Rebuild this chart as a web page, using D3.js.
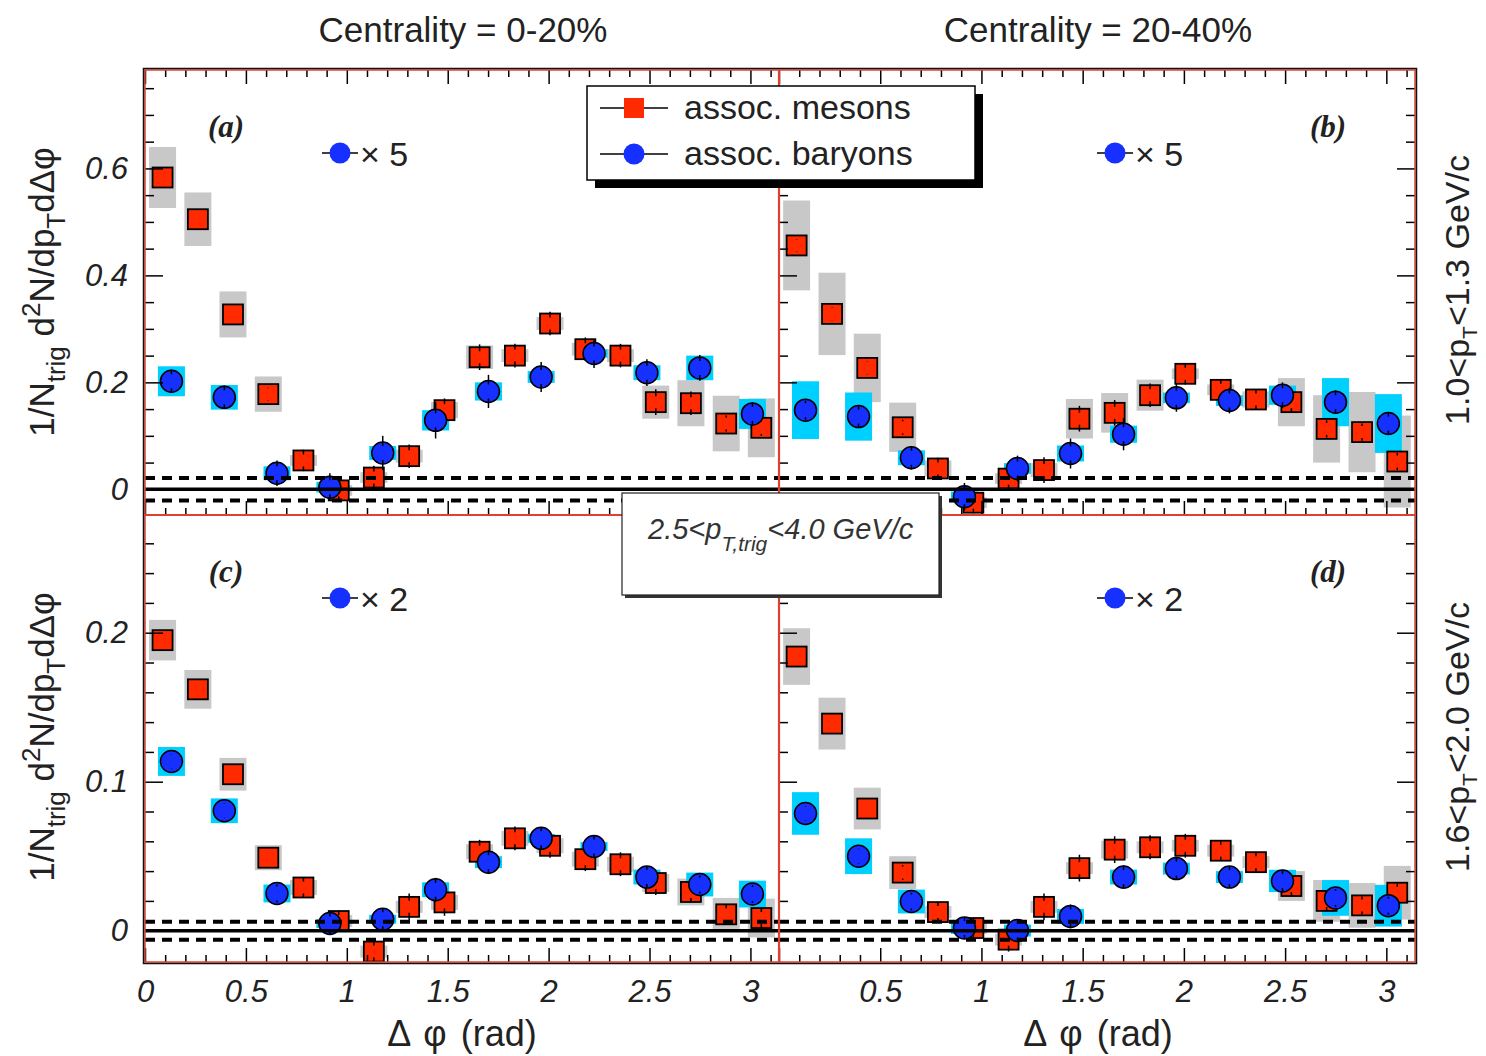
<!DOCTYPE html>
<html>
<head>
<meta charset="utf-8">
<script src="https://cdn.jsdelivr.net/npm/d3@7/dist/d3.min.js"></script>
<style>
  body { margin: 0; background: #fff; }
  text { font-family: "Liberation Sans", Arial, sans-serif; fill: #222; }
</style>
</head>
<body>
<div id="chart"></div>
<script>
// ---------------- data ----------------
// bin centres in delta phi (rad)
var mesonPhi  = [0.087, 0.262, 0.436, 0.611, 0.785, 0.960, 1.134, 1.309, 1.484, 1.658, 1.833, 2.007, 2.182, 2.356, 2.531, 2.705, 2.880, 3.054];
var baryonPhi = [0.131, 0.393, 0.654, 0.916, 1.178, 1.440, 1.702, 1.963, 2.225, 2.487, 2.749, 3.010];

// (a) 0-20%, 1.0<pT<1.3
var aMes    = [0.583, 0.505, 0.327, 0.178, 0.054, -0.002, 0.022, 0.062, 0.148, 0.247, 0.250, 0.310, 0.262, 0.250, 0.163, 0.161, 0.123, 0.115];
var aMesSys = [0.057, 0.050, 0.043, 0.033, 0.010, 0.010, 0.010, 0.012, 0.015, 0.022, 0.012, 0.012, 0.012, 0.012, 0.031, 0.043, 0.052, 0.055];
var aMesErr = [0.010, 0.010, 0.010, 0.012, 0.020, 0.020, 0.022, 0.022, 0.022, 0.024, 0.022, 0.022, 0.022, 0.022, 0.024, 0.022, 0.015, 0.015];
var aBar    = [0.202, 0.172, 0.030, 0.004, 0.068, 0.129, 0.183, 0.210, 0.254, 0.218, 0.227, 0.141];
var aBarSys = [0.028, 0.023, 0.013, 0.010, 0.013, 0.019, 0.017, 0.011, 0.008, 0.014, 0.023, 0.028];
var aBarErr = [0.022, 0.022, 0.024, 0.026, 0.032, 0.034, 0.031, 0.028, 0.027, 0.025, 0.024, 0.022];

// (b) 20-40%, 1.0<pT<1.3
var bMes    = [0.456, 0.328, 0.227, 0.116, 0.039, -0.025, 0.020, 0.036, 0.132, 0.143, 0.176, 0.216, 0.186, 0.168, 0.163, 0.113, 0.107, 0.052];
var bMesSys = [0.084, 0.077, 0.064, 0.046, 0.015, 0.010, 0.010, 0.013, 0.037, 0.037, 0.029, 0.010, 0.010, 0.015, 0.045, 0.063, 0.075, 0.086];
var bMesErr = [0.012, 0.012, 0.012, 0.014, 0.020, 0.020, 0.022, 0.024, 0.024, 0.024, 0.022, 0.020, 0.020, 0.018, 0.018, 0.016, 0.016, 0.016];
var bBar    = [0.148, 0.136, 0.059, -0.014, 0.039, 0.067, 0.103, 0.171, 0.166, 0.176, 0.163, 0.123];
var bBarSys = [0.054, 0.045, 0.014, 0.010, 0.010, 0.015, 0.016, 0.010, 0.010, 0.018, 0.045, 0.055];
var bBarErr = [0.018, 0.020, 0.022, 0.026, 0.024, 0.028, 0.030, 0.026, 0.024, 0.024, 0.022, 0.020];

// (c) 0-20%, 1.6<pT<2.0
var cMes    = [0.195, 0.162, 0.105, 0.049, 0.029, 0.0065, -0.014, 0.016, 0.019, 0.053, 0.062, 0.057, 0.048, 0.0446, 0.032, 0.026, 0.011, 0.0085];
var cMesSys = [0.0136, 0.013, 0.011, 0.0084, 0.005, 0.004, 0.004, 0.004, 0.005, 0.005, 0.005, 0.005, 0.005, 0.005, 0.006, 0.009, 0.011, 0.013];
var cMesErr = [0.003, 0.003, 0.003, 0.004, 0.007, 0.007, 0.008, 0.009, 0.009, 0.008, 0.008, 0.008, 0.008, 0.008, 0.008, 0.007, 0.007, 0.007];
var cBar    = [0.1136, 0.0805, 0.025, 0.0048, 0.0077, 0.0275, 0.046, 0.062, 0.0565, 0.036, 0.031, 0.0246];
var cBarSys = [0.0097, 0.0083, 0.006, 0.003, 0.003, 0.005, 0.004, 0.003, 0.003, 0.005, 0.008, 0.009];
var cBarErr = [0.005, 0.005, 0.006, 0.007, 0.007, 0.008, 0.008, 0.007, 0.007, 0.007, 0.006, 0.006];

// (d) 20-40%, 1.6<pT<2.0
var dMes    = [0.184, 0.139, 0.082, 0.039, 0.0125, 0.0018, -0.006, 0.016, 0.042, 0.0544, 0.056, 0.057, 0.0537, 0.046, 0.030, 0.020, 0.017, 0.0255];
var dMesSys = [0.019, 0.0174, 0.014, 0.011, 0.004, 0.004, 0.004, 0.004, 0.004, 0.006, 0.004, 0.004, 0.004, 0.004, 0.010, 0.014, 0.015, 0.018];
var dMesErr = [0.004, 0.004, 0.004, 0.005, 0.007, 0.007, 0.008, 0.009, 0.009, 0.009, 0.008, 0.008, 0.007, 0.007, 0.007, 0.007, 0.006, 0.006];
var dBar    = [0.0787, 0.050, 0.0196, 0.0018, 0.0001, 0.0096, 0.036, 0.0417, 0.036, 0.0334, 0.022, 0.0168];
var dBarSys = [0.0143, 0.012, 0.008, 0.004, 0.004, 0.005, 0.005, 0.004, 0.004, 0.0075, 0.012, 0.014];
var dBarErr = [0.005, 0.005, 0.006, 0.007, 0.007, 0.008, 0.008, 0.007, 0.007, 0.007, 0.006, 0.006];

// axis ticks
var xMajor = [0, 0.5, 1, 1.5, 2, 2.5, 3];
var xMinor = [0.1, 0.2, 0.3, 0.4, 0.6, 0.7, 0.8, 0.9, 1.1, 1.2, 1.3, 1.4, 1.6, 1.7, 1.8, 1.9, 2.1, 2.2, 2.3, 2.4, 2.6, 2.7, 2.8, 2.9, 3.1];
var xLabelsRight = [0.5, 1, 1.5, 2, 2.5, 3];
var yTopMajor = [0, 0.2, 0.4, 0.6];
var yTopMinor = [0.05, 0.1, 0.15, 0.25, 0.3, 0.35, 0.45, 0.5, 0.55, 0.65, 0.7, 0.75];
var yBotMajor = [0, 0.1, 0.2];
var yBotMinor = [0.02, 0.04, 0.06, 0.08, 0.12, 0.14, 0.16, 0.18, 0.22, 0.24, 0.26];

// ---------------- layout ----------------
var W = 1486, H = 1056;
var L = 145, M = 779, R = 1415, T = 70, HM = 515, B = 962;

var svg = d3.select("#chart").append("svg")
    .attr("width", W).attr("height", H);

var xLeft  = d3.scaleLinear().domain([0, Math.PI]).range([L, M]);
var xRight = d3.scaleLinear().domain([0, Math.PI]).range([M, R]);
var yTop   = d3.scaleLinear().domain([-0.048, 0.784]).range([HM, T]);
var yBot   = d3.scaleLinear().domain([-0.021, 0.279]).range([B, HM]);

var red = "#ff2a00", blue = "#1530ff", cyan = "#00d0ff", grey = "#c8c8c8";

var panels = [
  {id: "a", x: xLeft,  y: yTop, col: 0, row: 0, mes: aMes, mesSys: aMesSys, mesErr: aMesErr, bar: aBar, barSys: aBarSys, barErr: aBarErr, band: 0.021, factor: "5", yMajor: yTopMajor, yMinor: yTopMinor},
  {id: "b", x: xRight, y: yTop, col: 1, row: 0, mes: bMes, mesSys: bMesSys, mesErr: bMesErr, bar: bBar, barSys: bBarSys, barErr: bBarErr, band: 0.021, factor: "5", yMajor: yTopMajor, yMinor: yTopMinor},
  {id: "c", x: xLeft,  y: yBot, col: 0, row: 1, mes: cMes, mesSys: cMesSys, mesErr: cMesErr, bar: cBar, barSys: cBarSys, barErr: cBarErr, band: 0.006, factor: "2", yMajor: yBotMajor, yMinor: yBotMinor},
  {id: "d", x: xRight, y: yBot, col: 1, row: 1, mes: dMes, mesSys: dMesSys, mesErr: dMesErr, bar: dBar, barSys: dBarSys, barErr: dBarErr, band: 0.006, factor: "2", yMajor: yBotMajor, yMinor: yBotMinor}
];

var boxHalf = 13.5, sq = 20, rad = 11;

// short error-bar stubs drawn over a marker edge (the "H" look)
function stubs(g, data, p, half) {
  data.forEach(function(d) {
    var cx = p.x(d.phi), cy = p.y(d.v);
    var top = p.y(d.v + d.err), bot = p.y(d.v - d.err);
    if (cy - top > half - 4) {
      g.append("line").attr("x1", cx).attr("x2", cx).attr("y1", top).attr("y2", cy - half + 4)
        .style("stroke", "#000").style("stroke-width", 1.5);
      g.append("line").attr("x1", cx).attr("x2", cx).attr("y1", cy + half - 4).attr("y2", bot)
        .style("stroke", "#000").style("stroke-width", 1.5);
    }
  });
}

panels.forEach(function(p) {
  var x0 = p.x.range()[0], x1 = p.x.range()[1];
  var y0 = p.y.range()[1], y1 = p.y.range()[0];

  svg.append("clipPath").attr("id", "clip-" + p.id)
    .append("rect").attr("x", x0).attr("y", y0).attr("width", x1 - x0).attr("height", y1 - y0);

  var g = svg.append("g").attr("clip-path", "url(#clip-" + p.id + ")");

  var mes = p.mes.map(function(v, i) { return {phi: mesonPhi[i], v: v, sys: p.mesSys[i], err: p.mesErr[i]}; });
  var bar = p.bar.map(function(v, i) { return {phi: baryonPhi[i], v: v, sys: p.barSys[i], err: p.barErr[i]}; });

  // systematic boxes
  g.selectAll(".msys").data(mes).enter().append("rect")
    .attr("x", function(d) { return p.x(d.phi) - boxHalf; })
    .attr("width", boxHalf * 2)
    .attr("y", function(d) { return p.y(d.v + d.sys); })
    .attr("height", function(d) { return p.y(d.v - d.sys) - p.y(d.v + d.sys); })
    .style("fill", grey);
  g.selectAll(".bsys").data(bar).enter().append("rect")
    .attr("x", function(d) { return p.x(d.phi) - boxHalf; })
    .attr("width", boxHalf * 2)
    .attr("y", function(d) { return p.y(d.v + d.sys); })
    .attr("height", function(d) { return p.y(d.v - d.sys) - p.y(d.v + d.sys); })
    .style("fill", cyan);

  // mesons
  g.selectAll(".msq").data(mes).enter().append("rect")
    .attr("x", function(d) { return p.x(d.phi) - sq / 2; })
    .attr("y", function(d) { return p.y(d.v) - sq / 2; })
    .attr("width", sq).attr("height", sq)
    .style("fill", red).style("stroke", "#000").style("stroke-width", 1.8);
  stubs(g, mes, p, sq / 2);

  // baryons
  g.selectAll(".bdot").data(bar).enter().append("circle")
    .attr("cx", function(d) { return p.x(d.phi); })
    .attr("cy", function(d) { return p.y(d.v); })
    .attr("r", rad)
    .style("fill", blue).style("stroke", "#000").style("stroke-width", 1.5);
  stubs(g, bar, p, rad);

  // zero line and dashed normalisation band
  g.append("line").attr("x1", x0).attr("x2", x1).attr("y1", p.y(0)).attr("y2", p.y(0))
    .style("stroke", "#000").style("stroke-width", 3.5);
  [p.band, -p.band].forEach(function(b) {
    g.append("line").attr("x1", x0).attr("x2", x1).attr("y1", p.y(b)).attr("y2", p.y(b))
      .style("stroke", "#000").style("stroke-width", 4).style("stroke-dasharray", "10,7");
  });

  // ---- axes (ticks inside) ----
  var ax = svg.append("g").attr("class", "axes");
  function put(axis, tx, ty) {
    var a = ax.append("g").attr("transform", "translate(" + tx + "," + ty + ")").call(axis);
    a.select(".domain").remove();
    a.selectAll("line").style("stroke", "#000").style("stroke-width", 1.5);
    a.selectAll("text").style("font-family", "'Liberation Sans', Arial, sans-serif")
      .style("font-size", "31px").style("font-style", "italic").style("fill", "#222");
    return a;
  }
  // left axis
  put(d3.axisLeft(p.y).tickValues(p.yMajor).tickSize(-18).tickPadding(17)
      .tickFormat(p.col === 0 ? function(d) { return d; } : ""), x0, 0);
  put(d3.axisLeft(p.y).tickValues(p.yMinor).tickSize(-9).tickFormat(""), x0, 0);
  // right axis only on the outer side
  if (p.col === 1) {
    put(d3.axisRight(p.y).tickValues(p.yMajor).tickSize(-18).tickFormat(""), x1, 0);
    put(d3.axisRight(p.y).tickValues(p.yMinor).tickSize(-9).tickFormat(""), x1, 0);
  }
  // bottom axis
  var lab = p.col === 0 ? xMajor : xLabelsRight;
  put(d3.axisBottom(p.x).tickValues(xMajor).tickSize(-14).tickPadding(18)
      .tickFormat(p.row === 1 ? function(d) { return lab.indexOf(d) >= 0 ? d : ""; } : ""), 0, y1);
  put(d3.axisBottom(p.x).tickValues(xMinor).tickSize(-7).tickFormat(""), 0, y1);
  // top axis on the top row
  if (p.row === 0) {
    put(d3.axisTop(p.x).tickValues(xMajor).tickSize(-14).tickFormat(""), 0, y0);
    put(d3.axisTop(p.x).tickValues(xMinor).tickSize(-7).tickFormat(""), 0, y0);
  }

  // panel tag
  svg.append("text")
    .attr("x", p.col === 0 ? 226 : 1328)
    .attr("y", y0 + 67)
    .attr("text-anchor", "middle")
    .style("font-family", "'Liberation Serif', 'Times New Roman', serif")
    .style("font-weight", "bold").style("font-style", "italic")
    .style("font-size", "31px")
    .text("(" + p.id + ")");

  // scale factor marker
  var mx = p.col === 0 ? 340 : 1115, my = y0 + 83;
  svg.append("line").attr("x1", mx - 18).attr("x2", mx + 18).attr("y1", my).attr("y2", my)
    .style("stroke", "#000").style("stroke-width", 1.5);
  svg.append("circle").attr("cx", mx).attr("cy", my).attr("r", 10.5).style("fill", blue);
  svg.append("text").attr("x", mx + 20).attr("y", my + 13)
    .style("font-size", "34px").text("\u00d7 " + p.factor);
});

// ---- frame ----
svg.append("rect").attr("x", L).attr("y", T).attr("width", R - L).attr("height", B - T)
  .style("fill", "none").style("stroke", "#e0402f").style("stroke-width", 1.5);
svg.append("rect").attr("x", L - 1.5).attr("y", T - 1.5).attr("width", R - L + 3).attr("height", B - T + 3)
  .style("fill", "none").style("stroke", "#111").style("stroke-width", 1.5);
svg.append("line").attr("x1", L).attr("x2", R).attr("y1", HM).attr("y2", HM)
  .style("stroke", "#e0402f").style("stroke-width", 2.2);
svg.append("line").attr("x1", M).attr("x2", M).attr("y1", T).attr("y2", B)
  .style("stroke", "#e0402f").style("stroke-width", 2.2);

// ---- legend ----
var lg = svg.append("g");
lg.append("rect").attr("x", 595).attr("y", 94).attr("width", 388).attr("height", 94).style("fill", "#000");
lg.append("rect").attr("x", 587).attr("y", 86).attr("width", 388).attr("height", 94)
  .style("fill", "#fff").style("stroke", "#000").style("stroke-width", 1.5);
[{y: 108, name: "assoc. mesons", sym: "sq"}, {y: 154, name: "assoc. baryons", sym: "ci"}].forEach(function(e) {
  lg.append("line").attr("x1", 600).attr("x2", 668).attr("y1", e.y).attr("y2", e.y)
    .style("stroke", "#000").style("stroke-width", 1.5);
  if (e.sym === "sq") {
    lg.append("rect").attr("x", 624).attr("y", e.y - 10).attr("width", 20).attr("height", 20).style("fill", red);
  } else {
    lg.append("circle").attr("cx", 634).attr("cy", e.y).attr("r", 10.5).style("fill", blue);
  }
  lg.append("text").attr("x", 684).attr("y", e.y + 11).style("font-size", "34px").text(e.name);
});

// ---- trigger pT box ----
var tb = svg.append("g");
tb.append("rect").attr("x", 625).attr("y", 496).attr("width", 317).attr("height", 102).style("fill", "#333");
tb.append("rect").attr("x", 622).attr("y", 493).attr("width", 317).attr("height", 102)
  .style("fill", "#fff").style("stroke", "#222").style("stroke-width", 1.2);
var tt = tb.append("text").attr("x", 648).attr("y", 539)
  .style("font-size", "29px").style("font-style", "italic").style("fill", "#333");
tt.append("tspan").text("2.5<p");
tt.append("tspan").attr("dy", 12).style("font-size", "21px").text("T,trig");
tt.append("tspan").attr("dy", -12).text("<4.0 GeV/c");

// ---- titles ----
svg.append("text").attr("x", 463).attr("y", 42).attr("text-anchor", "middle")
  .style("font-size", "35px").text("Centrality = 0-20%");
svg.append("text").attr("x", 1098).attr("y", 42).attr("text-anchor", "middle")
  .style("font-size", "35px").text("Centrality = 20-40%");

[462, 1098].forEach(function(cx) {
  svg.append("text").attr("x", cx).attr("y", 1046).attr("text-anchor", "middle")
    .style("font-size", "36px").style("word-spacing", "4px").text("\u0394 \u03c6 (rad)");
});

// y titles
[292, 737].forEach(function(cy) {
  var t = svg.append("text").attr("transform", "translate(54," + cy + ") rotate(-90)")
    .attr("text-anchor", "middle").style("font-size", "35px");
  t.append("tspan").text("1/N");
  t.append("tspan").attr("dy", 11).style("font-size", "26px").text("trig");
  t.append("tspan").attr("dy", -11).text(" d");
  t.append("tspan").attr("dy", -14).style("font-size", "26px").text("2");
  t.append("tspan").attr("dy", 14).text("N/dp");
  t.append("tspan").attr("dy", 11).style("font-size", "26px").text("T");
  t.append("tspan").attr("dy", -11).text("d\u0394\u03c6");
});

// right-hand pT labels
[{cy: 290, lo: "1.0", hi: "1.3"}, {cy: 737, lo: "1.6", hi: "2.0"}].forEach(function(r) {
  var t = svg.append("text").attr("transform", "translate(1469," + r.cy + ") rotate(-90)")
    .attr("text-anchor", "middle").style("font-size", "34px");
  t.append("tspan").text(r.lo + "<p");
  t.append("tspan").attr("dy", 8).style("font-size", "21px").text("T");
  t.append("tspan").attr("dy", -8).text("<" + r.hi + " GeV/c");
});
</script>
</body>
</html>
